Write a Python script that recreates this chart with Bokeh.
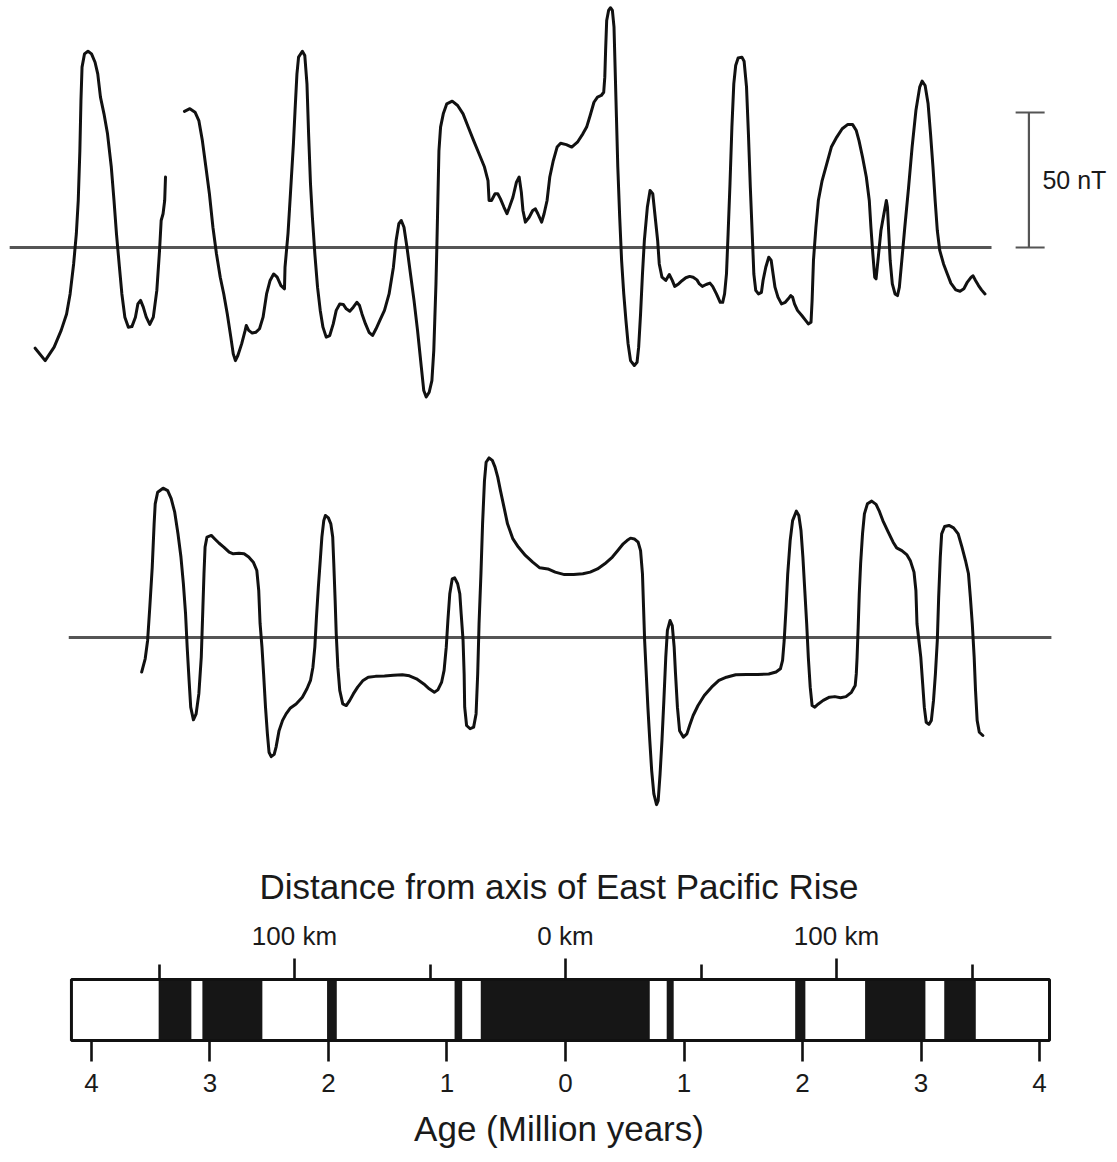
from bokeh.plotting import figure
from bokeh.layouts import column
from bokeh.models import Range1d, LinearAxis, FixedTicker, CustomJSTickFormatter
from bokeh.embed import file_html
from bokeh.resources import INLINE
from bokeh.core.properties import value

# ---------------- data ----------------
# Observed profile (distance from ridge axis in km, anomaly in nT)
TOP_SEG1_KM = [-195.7, -192.0, -188.7, -186.1, -184.1, -182.8, -181.5, -180.5, -179.8, -179.2,
               -178.8, -178.4, -177.5, -176.2, -174.9, -173.6, -172.6, -171.6, -170.3, -169.0,
               -167.6, -166.6, -165.7, -164.6, -163.7, -162.6, -161.3, -160.0, -158.7, -157.8,
               -156.8, -155.8, -154.7, -153.4, -152.1, -150.8, -149.8, -149.2, -148.5, -147.9, -147.6]
TOP_SEG1_NT = [-37.3, -41.9, -36.9, -30.7, -24.6, -17.2, -6.1, 5.1, 17.4, 35.9,
               54.4, 66.8, 71.7, 72.7, 71.7, 68.6, 64.3, 55.7, 49.5, 42.1,
               29.8, 17.4, 5.1, -7.3, -17.2, -25.8, -29.5, -29.3, -25.8, -20.9,
               -19.6, -22.1, -25.8, -28.5, -25.8, -15.9, -1.1, 10.0, 12.5, 17.4, 26.1]

TOP_SEG2_KM = [-140.6, -138.6, -136.7, -135.3, -134.0, -132.7, -131.4, -130.1, -128.8, -127.4,
               -126.1, -124.8, -123.5, -122.6, -121.8, -120.9, -119.5, -118.2, -117.8, -116.9,
               -115.6, -114.3, -112.9, -111.6, -110.3, -109.0, -107.7, -106.4, -105.0, -103.7,
               -103.5, -102.4, -101.5, -100.4, -99.8, -99.1, -98.5, -97.1, -96.2, -95.4,
               -94.8, -94.1, -93.4, -92.5, -91.5, -90.5, -89.5, -88.3, -87.0, -85.7,
               -84.6, -83.3, -82.0, -80.9, -79.6, -78.3, -77.0, -76.0, -75.1, -73.8,
               -72.5, -71.2, -69.9, -68.5, -66.8, -65.1, -63.5, -62.5, -61.5, -60.6,
               -59.6, -58.5, -57.2, -55.9, -54.6, -53.2, -52.3, -51.4, -50.3, -49.3,
               -48.6, -48.2, -47.8, -47.5, -47.1, -46.7, -46.1, -45.1, -43.8, -41.8,
               -39.8, -37.8, -35.9, -33.9, -31.9, -29.9, -28.6, -28.2, -27.3, -26.0,
               -25.0, -24.0, -22.7, -21.6, -20.7, -19.4, -18.1, -17.1, -16.3, -15.7,
               -14.8, -13.4, -12.1, -11.1, -10.2, -8.8, -7.9, -6.8, -5.8, -4.5,
               -3.1, -1.8, 0.3, 2.3, 4.4, 6.4, 7.8, 9.1, 10.5, 11.8,
               13.2, 14.1, 14.5, 14.8, 15.2, 15.9, 16.6, 17.3, 17.9, 18.3,
               18.8, 19.3, 20.0, 20.7, 21.5, 22.3, 23.1, 24.0, 25.4, 26.4,
               27.0, 27.7, 28.4, 29.1, 30.2, 31.2, 32.2, 33.1, 34.0, 34.6,
               35.6, 37.0, 38.3, 39.4, 40.3, 41.7, 43.1, 44.4, 45.8, 47.1,
               48.5, 49.4, 50.5, 51.9, 53.3, 54.3, 55.7, 57.1, 58.0, 58.7,
               59.4, 60.0, 60.7, 61.4, 62.1, 62.8, 63.7, 65.1, 65.9, 66.8,
               67.5, 68.2, 68.9, 69.5, 70.2, 71.2, 72.3, 72.9, 73.9, 75.0,
               75.9, 76.6, 77.3, 78.4, 79.7, 81.1, 82.2, 83.1, 83.8, 84.5,
               85.6, 87.2, 88.6, 89.6, 90.6, 91.0, 91.5, 92.4, 93.3, 94.7,
               96.4, 98.1, 100.1, 102.1, 104.2, 105.9, 107.3, 108.3, 109.6, 111.0,
               112.1, 112.7, 113.4, 114.1, 114.6, 115.3, 116.4, 117.5, 118.4, 118.8,
               119.3, 119.8, 120.6, 121.6, 122.5, 123.2, 124.1, 125.2, 126.6, 127.9,
               129.3, 130.7, 131.6, 132.7, 133.8, 134.7, 135.6, 136.4, 137.2, 138.1,
               139.5, 140.9, 142.2, 144.0, 145.6, 147.0, 148.3, 149.7, 150.4, 151.3,
               152.4, 153.5, 154.8]
TOP_SEG2_NT = [50.4, 51.4, 50.1, 47.0, 39.6, 29.8, 19.9, 7.5, -2.3, -11.0,
               -17.2, -24.6, -33.2, -39.4, -41.9, -40.0, -35.7, -30.7, -28.9, -30.7,
               -31.7, -31.4, -30.1, -25.8, -17.2, -12.2, -9.8, -11.0, -14.1, -15.3,
               -7.3, 5.1, 19.9, 38.4, 50.7, 64.3, 70.5, 72.7, 71.1, 60.6,
               42.1, 23.6, 11.2, -2.3, -14.7, -23.3, -29.5, -33.2, -32.6, -28.3,
               -23.3, -20.9, -21.1, -22.7, -23.6, -22.1, -20.3, -21.5, -24.6, -28.3,
               -31.4, -32.6, -30.1, -27.0, -23.3, -17.2, -7.3, 2.6, 8.8, 10.0,
               7.5, 0.1, -9.8, -19.6, -30.7, -44.3, -53.0, -55.4, -53.6, -49.3,
               -38.1, -25.8, -13.5, -1.1, 17.4, 35.9, 44.6, 49.5, 53.2, 54.2,
               52.6, 49.5, 44.6, 39.6, 34.7, 29.8, 24.8, 17.4, 17.4, 19.9,
               19.9, 18.0, 14.9, 12.5, 14.9, 18.6, 24.2, 26.1, 20.5, 13.7,
               9.4, 11.2, 13.7, 14.3, 12.5, 9.4, 12.5, 17.4, 26.1, 32.2,
               37.2, 38.6, 38.1, 37.2, 39.0, 42.1, 44.6, 48.9, 53.8, 55.7,
               56.3, 57.5, 63.1, 73.0, 84.1, 87.8, 88.8, 87.8, 81.6, 66.8,
               48.3, 29.8, 11.2, -4.8, -17.2, -27.0, -35.7, -41.9, -43.7, -42.5,
               -36.9, -24.6, -9.8, 2.6, 14.9, 21.1, 19.9, 11.2, 2.6, -6.1,
               -11.0, -12.2, -10.0, -12.2, -14.4, -13.5, -12.2, -11.2, -10.7, -11.0,
               -12.0, -13.5, -14.4, -13.7, -13.2, -14.4, -17.2, -20.3, -20.3, -17.2,
               -9.8, 5.1, 23.6, 44.6, 60.6, 67.4, 70.2, 70.5, 69.0, 59.4,
               42.1, 22.3, 5.1, -9.8, -15.9, -17.2, -16.6, -12.2, -7.3, -3.6,
               -4.8, -9.8, -14.7, -18.4, -20.9, -20.3, -19.0, -17.8, -18.4, -20.9,
               -23.3, -25.2, -27.0, -28.3, -27.7, -19.6, -4.8, 7.5, 17.4, 24.8,
               31.0, 37.2, 40.9, 44.0, 45.6, 45.6, 43.3, 39.6, 33.5, 26.1,
               17.4, 7.5, -2.3, -11.0, -11.6, -4.8, 6.3, 12.5, 17.4, 14.9,
               5.1, -4.8, -13.5, -17.2, -17.8, -14.7, -4.8, 7.5, 22.3, 37.2,
               50.7, 59.4, 61.6, 60.0, 53.2, 42.1, 29.8, 17.4, 6.3, -1.1,
               -6.1, -9.8, -13.2, -15.7, -16.2, -15.3, -12.8, -11.0, -10.5, -12.2,
               -14.1, -15.7, -17.2]

# Model profile (km, nT)
MODEL_KM = [-156.4, -155.1, -154.2, -153.4, -152.5, -151.8, -151.4, -150.5, -148.5, -146.8,
            -145.5, -144.2, -143.0, -141.9, -141.0, -140.2, -139.6, -138.9, -138.3, -137.3,
            -136.3, -135.3, -134.4, -133.8, -133.4, -133.0, -132.3, -130.7, -129.4, -127.8,
            -126.1, -124.1, -122.6, -120.5, -118.6, -116.9, -115.2, -113.9, -113.2, -112.7,
            -112.0, -111.4, -110.7, -110.0, -109.4, -108.6, -107.5, -106.8, -105.7, -104.4,
            -103.1, -101.5, -99.4, -97.1, -95.4, -94.1, -93.2, -92.5, -91.9, -91.2,
            -90.5, -89.9, -89.2, -88.6, -87.5, -86.6, -85.9, -85.5, -85.0, -84.6,
            -84.0, -83.3, -82.2, -80.9, -79.6, -78.3, -76.7, -74.7, -72.8, -70.1,
            -66.8, -63.5, -60.2, -57.6, -55.0, -52.3, -50.3, -48.4, -47.1, -45.7,
            -44.8, -44.0, -43.4, -42.7, -41.8, -40.9, -39.8, -39.0, -38.5, -37.8,
            -37.4, -37.2, -36.5, -35.2, -33.9, -33.0, -32.4, -31.9, -31.2, -30.6,
            -29.9, -29.3, -28.2, -27.0, -26.0, -25.0, -24.0, -22.7, -21.4, -19.4,
            -17.4, -14.8, -12.1, -9.5, -6.5, -3.8, -0.4, 3.0, 6.4, 9.1,
            11.8, 14.5, 17.3, 19.3, 21.3, 22.7, 24.0, 25.4, 26.8, 27.7,
            28.4, 28.8, 29.2, 29.8, 30.4, 31.1, 31.8, 32.6, 33.6, 34.2,
            34.9, 35.6, 36.3, 37.0, 37.6, 38.6, 39.4, 40.1, 40.6, 41.3,
            42.1, 43.5, 44.8, 45.8, 47.1, 48.9, 51.2, 53.9, 56.6, 59.4,
            62.8, 66.8, 70.9, 75.0, 77.7, 79.3, 80.1, 80.7, 81.4, 82.0,
            82.9, 83.8, 85.2, 86.1, 86.9, 87.6, 88.3, 89.0, 89.6, 90.3,
            91.0, 92.0, 93.3, 95.1, 97.4, 99.4, 101.5, 103.5, 105.5, 106.9,
            107.3, 107.6, 108.0, 108.4, 108.9, 109.6, 110.3, 111.4, 113.0, 114.6,
            115.7, 117.1, 119.1, 120.9, 122.2, 124.1, 125.9, 127.3, 128.6, 129.3,
            129.7, 130.4, 131.1, 131.8, 132.4, 133.1, 134.1, 135.0, 135.8, 136.5,
            137.2, 137.7, 138.3, 138.8, 139.9, 141.5, 143.2, 144.9, 146.3, 147.6,
            148.7, 149.4, 150.1, 150.8, 151.3, 151.9, 152.7, 154.0]
MODEL_NT = [-12.8, -7.9, -1.1, 11.2, 26.0, 42.1, 49.5, 53.8, 55.3, 54.4,
            51.4, 46.4, 38.4, 29.8, 19.9, 8.8, -3.6, -15.9, -25.8, -30.5,
            -28.3, -20.9, -7.3, 11.2, 23.6, 33.5, 37.2, 37.8, 36.5, 34.9,
            33.5, 31.6, 31.0, 31.2, 31.0, 29.8, 27.9, 24.8, 17.4, 5.1,
            -3.6, -13.5, -25.8, -35.7, -42.5, -44.1, -43.3, -40.6, -34.5, -30.7,
            -28.3, -26.1, -24.6, -22.1, -19.0, -15.9, -11.0, -3.6, 7.5, 18.6,
            28.5, 37.2, 43.3, 45.2, 44.3, 42.1, 37.2, 27.3, 13.7, 1.4,
            -11.0, -19.6, -24.6, -25.2, -23.3, -20.9, -18.4, -15.9, -14.7, -14.4,
            -14.3, -14.0, -13.8, -14.2, -15.3, -17.2, -19.0, -20.3, -19.4, -16.5,
            -12.2, -3.6, 6.3, 16.2, 21.7, 22.1, 19.9, 16.2, 8.8, -1.1,
            -13.5, -25.8, -32.6, -33.8, -33.2, -28.3, -13.5, 5.1, 23.6, 42.1,
            58.1, 64.9, 66.5, 65.6, 63.1, 59.4, 54.4, 48.3, 42.1, 36.5,
            33.5, 30.4, 27.9, 25.8, 25.4, 24.2, 23.3, 23.3, 23.6, 24.2,
            25.4, 27.3, 29.8, 32.2, 34.7, 35.9, 36.8, 36.5, 35.3, 32.2,
            23.6, 11.2, -1.1, -13.5, -25.8, -38.1, -49.3, -57.9, -61.9, -60.4,
            -50.5, -38.1, -23.3, -7.3, 2.6, 6.3, 4.4, -3.6, -13.5, -25.8,
            -34.5, -36.9, -35.7, -32.6, -28.9, -25.2, -21.5, -18.4, -15.9, -14.7,
            -13.8, -13.7, -13.7, -13.5, -12.8, -11.6, -8.5, -1.1, 11.2, 23.6,
            35.9, 43.3, 46.8, 45.2, 39.6, 29.8, 17.4, 5.1, -7.3, -18.4,
            -25.2, -25.8, -24.6, -23.3, -22.1, -21.9, -22.3, -21.9, -20.3, -17.8,
            -13.5, -7.3, 3.8, 16.2, 27.3, 38.4, 45.8, 49.5, 50.5, 49.3,
            47.0, 43.3, 39.0, 35.3, 33.2, 32.2, 30.7, 28.3, 24.2, 17.4,
            5.1, -1.1, -7.3, -17.2, -25.8, -31.4, -32.2, -30.7, -23.3, -13.5,
            -1.1, 14.9, 29.8, 38.4, 41.1, 41.5, 40.6, 38.4, 33.5, 28.5,
            23.6, 14.9, 5.1, -7.3, -19.6, -30.7, -35.1, -36.3]

# Polarity chron boundaries (Myr, negative = west of axis); normal polarity = black
NORMAL_START_MYR = [-3.433, -3.064, -2.012, -0.936, -0.715, 0.854, 1.938, 2.528, 3.196]
NORMAL_END_MYR = [-3.157, -2.558, -1.930, -0.872, 0.711, 0.913, 2.024, 3.037, 3.462]
RECORD_START_MYR = -4.169
RECORD_END_MYR = 4.084

AGE_TICKS = [-4, -3, -2, -1, 0, 1, 2, 3, 4]
KM_LABEL_TICKS = [-100, 0, 100]
KM_MINOR_TICKS = [-150, -50, 50, 150]
SPREADING_RATE_KM_PER_MYR = 43.73
SCALE_BAR_NT = 50

# ---------------- layout ----------------
FONT = "Liberation Sans"
W = 1117
PX_PER_KM = 2.71
AXIS_PX = 565
X0 = -AXIS_PX / PX_PER_KM
X1 = (W - AXIS_PX) / PX_PER_KM
INK = "#111111"
GREY = "#555555"


def profile_fig(h, ytop):
    p = figure(width=W, height=h, x_range=Range1d(X0, X1),
               y_range=Range1d(ytop - h / 2.7, ytop),
               x_axis_type=None, y_axis_type=None, toolbar_location=None,
               output_backend="svg", min_border=0)
    p.outline_line_color = None
    return p


# Observed profile
p1 = profile_fig(440, 91.48)
p1.line([-205.1, 157.2], [0, 0], line_color=GREY, line_width=2.8)
p1.multi_line([TOP_SEG1_KM, TOP_SEG2_KM], [TOP_SEG1_NT, TOP_SEG2_NT],
              line_color=INK, line_width=3.0, line_join="round", line_cap="round")
# 50 nT scale bar
p1.segment(x0=[171.0, 166.1, 166.1], y0=[0, 0, SCALE_BAR_NT],
           x1=[171.0, 176.8, 176.8], y1=[SCALE_BAR_NT, 0, SCALE_BAR_NT],
           line_color=GREY, line_width=2.2)
p1.text(x=[176.0], y=[SCALE_BAR_NT / 2], text=[f"{SCALE_BAR_NT} nT"],
        text_font=value(FONT), text_font_size="25px", text_color="#1a1a1a",
        text_align="left", text_baseline="middle")

# Model profile
p2 = profile_fig(420, 72.96)
p2.line([-183.3, 179.3], [0, 0], line_color=GREY, line_width=2.8)
p2.line(MODEL_KM, MODEL_NT, line_color=INK, line_width=3.0,
        line_join="round", line_cap="round")

# Polarity stripe bar with distance and age axes
p3 = figure(frame_width=W, frame_height=73, x_range=Range1d(X0, X1),
            y_range=Range1d(-0.098, 1.098), x_axis_type=None, y_axis_type=None,
            toolbar_location=None, output_backend="svg",
            min_border_left=0, min_border_right=0, min_border_top=113, min_border_bottom=116)
p3.outline_line_color = None
p3.extra_x_ranges = {"age": Range1d(X0 / SPREADING_RATE_KM_PER_MYR, X1 / SPREADING_RATE_KM_PER_MYR)}

p3.quad(left=NORMAL_START_MYR, right=NORMAL_END_MYR, bottom=0, top=1,
        x_range_name="age", fill_color="#161616", line_color=None)
p3.quad(left=[RECORD_START_MYR], right=[RECORD_END_MYR], bottom=[0], top=[1],
        x_range_name="age", fill_color=None, line_color=INK, line_width=3)


def style_axis(ax):
    ax.axis_line_color = None
    ax.major_tick_line_color = INK
    ax.minor_tick_line_color = INK
    ax.major_tick_line_width = 2.6
    ax.minor_tick_line_width = 2.6
    ax.major_label_text_font = FONT
    ax.major_label_text_font_size = "26px"
    ax.major_label_text_color = "#1a1a1a"
    ax.axis_label_text_font = FONT
    ax.axis_label_text_font_size = "35px"
    ax.axis_label_text_font_style = "normal"
    ax.axis_label_text_color = "#1a1a1a"


top_ax = LinearAxis(ticker=FixedTicker(ticks=KM_LABEL_TICKS, minor_ticks=KM_MINOR_TICKS),
                    formatter=CustomJSTickFormatter(code="return Math.abs(tick) + ' km'"),
                    axis_label="Distance from axis of East Pacific Rise")
style_axis(top_ax)
top_ax.major_tick_in = 6
top_ax.major_tick_out = 15
top_ax.minor_tick_in = 6
top_ax.minor_tick_out = 9
top_ax.major_label_standoff = 8
top_ax.axis_label_standoff = 12
p3.add_layout(top_ax, "above")

bot_ax = LinearAxis(x_range_name="age", ticker=FixedTicker(ticks=AGE_TICKS, minor_ticks=[]),
                    formatter=CustomJSTickFormatter(code="return Math.abs(tick).toString()"),
                    axis_label="Age (Million years)")
style_axis(bot_ax)
bot_ax.major_tick_in = 6
bot_ax.major_tick_out = 15
bot_ax.minor_tick_in = 0
bot_ax.minor_tick_out = 0
bot_ax.major_label_standoff = 12
bot_ax.axis_label_standoff = 14
p3.add_layout(bot_ax, "below")

layout = column(p1, p2, p3, spacing=0)
open("out.html", "w").write(file_html(layout, INLINE))
